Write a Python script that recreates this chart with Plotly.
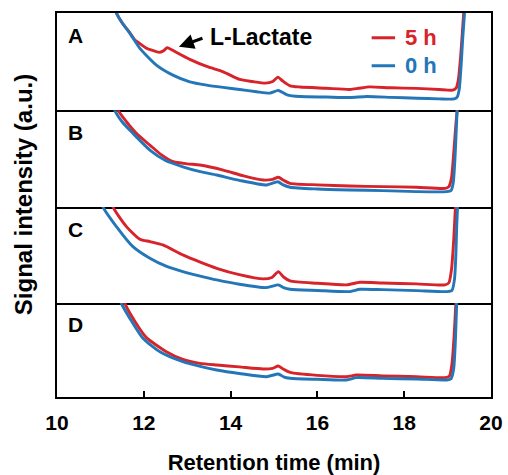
import plotly.graph_objects as go

# Retention-time axis ticks
tick_vals = [10, 12, 14, 16, 18, 20]
tick_text = ["10", "12", "14", "16", "18", "20"]

panel_labels = ["A", "B", "C", "D"]

# Chromatogram traces (relative signal, 0-100 per panel) for 5 h and 0 h
a_5h_x = [11.25, 11.37, 11.5, 11.68, 11.8, 11.91, 12.05, 12.2, 12.35, 12.45, 12.54, 12.65, 12.79, 13.06,
          13.45, 13.83, 14.21, 14.5, 14.8, 14.97, 15.09, 15.2, 15.37, 15.6, 16.2, 16.75, 16.95, 17.2,
          17.7, 18.28, 18.8, 19.12, 19.2, 19.25, 19.3, 19.34, 19.37, 19.4]
a_5h_y = [125, 100, 90, 79.5, 72, 68.5, 64, 61.5, 59.5, 61, 64.2, 62, 58.5, 52.3,
          45, 39.5, 31.6, 29.5, 27.8, 29.5, 34, 30, 25, 23.8, 22.5, 21.3, 22.5, 24,
          23, 22.4, 21.3, 20.6, 23, 32, 55, 80, 100, 125]
a_0h_x = [11.25, 11.37, 11.5, 11.68, 11.91, 12.29, 12.67, 13.06, 13.45, 13.83, 14.21, 14.6, 14.9,
          15.1, 15.3, 15.6, 16.2, 16.75, 17.14, 17.7, 18.3, 18.8, 19.15, 19.22, 19.27, 19.31,
          19.35, 19.39, 19.42]
a_0h_y = [125, 100, 90, 79.1, 63.6, 46.4, 36.1, 29.2, 25.8, 23.4, 21.3, 19, 17.5,
          20.3, 15.8, 14, 13.5, 13, 14, 13.2, 12.3, 11.6, 11.5, 13.5, 22, 45,
          75, 100, 125]

b_5h_x = [11.28, 11.41, 11.6, 11.85, 12.14, 12.4, 12.68, 13.0, 13.29, 13.83, 14.3, 14.75, 14.97,
          15.1, 15.22, 15.37, 16.0, 16.75, 17.5, 18.29, 18.95, 19.03, 19.09, 19.14, 19.19, 19.22, 19.25]
b_5h_y = [125, 100, 88, 75, 63.9, 54, 46.7, 44.5, 43.3, 38.1, 32, 27.8, 28.5,
          30.6, 27.5, 24.4, 22.8, 21.6, 21, 20.3, 19.2, 21, 30, 55, 85, 100, 125]
b_0h_x = [11.2, 11.33, 11.5, 11.75, 12.14, 12.5, 12.9, 13.3, 13.68, 14.2, 14.83, 15.09, 15.2,
          15.37, 16.0, 16.75, 17.5, 18.29, 18.98, 19.08, 19.13, 19.17, 19.2, 19.22, 19.25]
b_0h_y = [125, 100, 88, 76, 58.8, 48, 41.5, 36.5, 33, 27.5, 22.7, 26, 23,
          20.3, 18.5, 17.5, 16.8, 15.8, 15.8, 17, 25, 50, 80, 100, 125]

c_5h_x = [11.15, 11.29, 11.6, 11.91, 12.14, 12.44, 12.9, 13.3, 13.68, 14.2, 14.75, 14.95, 15.1,
          15.22, 15.37, 16.0, 16.67, 16.98, 17.5, 18.29, 18.94, 19.03, 19.09, 19.14, 19.18, 19.21]
c_5h_y = [125, 100, 79.5, 66.3, 63.9, 60.4, 50, 42.5, 36.1, 29.5, 25, 26.5, 32.6,
          27, 22.9, 20.5, 18.8, 21.5, 20.8, 19.8, 18.8, 21, 35, 65, 100, 125]
c_0h_x = [10.95, 11.06, 11.37, 11.75, 12.14, 12.5, 12.9, 13.3, 13.68, 14.2, 14.83, 15.1, 15.22,
          15.37, 16.0, 16.75, 16.98, 17.5, 18.29, 18.98, 19.1, 19.16, 19.19, 19.21, 19.23, 19.26]
c_0h_y = [125, 100, 79.5, 58.6, 46.5, 38.5, 32.6, 28, 24, 19.5, 16, 18.8, 16,
          14.2, 13, 11.8, 14.2, 13.8, 12.8, 11.8, 13, 25, 50, 80, 100, 125]

d_5h_x = [11.45, 11.56, 11.8, 12.06, 12.52, 12.9, 13.29, 13.68, 14.2, 14.75, 14.97, 15.1, 15.22,
          15.37, 16.0, 16.67, 16.9, 17.5, 18.29, 18.94, 19.04, 19.1, 19.15, 19.19, 19.22]
d_5h_y = [125, 100, 80, 63.1, 48.2, 40, 35.8, 34, 32, 29.8, 30.5, 33, 29.5,
          26.2, 23, 21.6, 23.4, 22.5, 21.6, 20.5, 22, 35, 65, 100, 125]
d_0h_x = [11.38, 11.48, 11.7, 11.98, 12.37, 12.9, 13.3, 13.68, 14.2, 14.83, 15.1, 15.22, 15.37,
          16.0, 16.67, 16.9, 17.5, 18.29, 18.98, 19.08, 19.14, 19.18, 19.21, 19.24]
d_0h_y = [125, 100, 82, 62.4, 48.2, 37.6, 32.5, 28.7, 25, 21.6, 24.5, 21.5, 19.9,
          18.8, 18.1, 20.6, 19.8, 19.1, 18.1, 19.5, 30, 60, 100, 125]

series = [
    (a_5h_x, a_5h_y, a_0h_x, a_0h_y),
    (b_5h_x, b_5h_y, b_0h_x, b_0h_y),
    (c_5h_x, c_5h_y, c_0h_x, c_0h_y),
    (d_5h_x, d_5h_y, d_0h_x, d_0h_y),
]

RED = "#d7232a"
BLUE = "#2376b7"
FONT = "Liberation Sans, Arial, sans-serif"

# Vertical domains of the four stacked panels (top to bottom)
domains = [[0.747, 1.0], [0.495, 0.747], [0.245, 0.495], [0.0, 0.245]]

fig = go.Figure()
layout = {}
for i, (rx, ry, bx, by) in enumerate(series):
    n = i + 1
    xa = "x" if n == 1 else f"x{n}"
    ya = "y" if n == 1 else f"y{n}"
    fig.add_trace(go.Scatter(x=rx, y=ry, xaxis=xa, yaxis=ya, mode="lines",
                             line=dict(color=RED, width=2.9, shape="spline", smoothing=0.6),
                             showlegend=False, hoverinfo="skip"))
    fig.add_trace(go.Scatter(x=bx, y=by, xaxis=xa, yaxis=ya, mode="lines",
                             line=dict(color=BLUE, width=2.9, shape="spline", smoothing=0.6),
                             showlegend=False, hoverinfo="skip"))
    bottom = n == 4
    layout[f"xaxis{n}"] = dict(
        domain=[0, 1], anchor=ya, range=[10, 20], showline=True,
        mirror=True if n == 1 else False, automargin=False,
        linecolor="black", linewidth=2, showgrid=False, zeroline=False,
        tickvals=tick_vals if bottom else [], ticktext=tick_text if bottom else [],
        ticks="inside" if bottom else "", ticklen=6, tickwidth=2, tickcolor="black",
        showticklabels=bottom, ticklabelstandoff=6,
        tickfont=dict(family=FONT, size=21, color="black", weight="bold"),
        matches=None if n == 1 else "x",
    )
    if bottom:
        layout[f"xaxis{n}"]["title"] = dict(
            text="Retention time (min)", standoff=22,
            font=dict(family=FONT, size=22, color="black", weight="bold"))
    layout[f"yaxis{n}"] = dict(
        domain=domains[i], anchor=xa, range=[0, 100], showline=True, mirror=True,
        automargin=False,
        linecolor="black", linewidth=2, showgrid=False, zeroline=False,
        showticklabels=False, ticks="",
    )

annotations = []
for i, lab in enumerate(panel_labels):
    n = i + 1
    xr = "x" if n == 1 else f"x{n}"
    yr = "y" if n == 1 else f"y{n}"
    annotations.append(dict(text=lab, xref=f"{xr} domain", yref=f"{yr} domain",
                            x=0.042, y=0.77, showarrow=False, xanchor="center", yanchor="middle",
                            font=dict(family=FONT, size=21, color="black", weight="bold")))

# Peak marker in panel A
annotations.append(dict(text="", x=12.81, y=65.3, xref="x", yref="y", showarrow=True,
                        ax=25, ay=-9, arrowhead=2, arrowsize=1.0, arrowwidth=3,
                        arrowcolor="black", standoff=0))
annotations.append(dict(text="L-Lactate", x=14.70, y=75.6, xref="x", yref="y", showarrow=False,
                        xanchor="center", yanchor="middle",
                        font=dict(family=FONT, size=23, color="black", weight="bold")))

# Key entries
annotations.append(dict(text="5 h", xref="x domain", yref="y domain", x=0.797, y=0.745,
                        showarrow=False, xanchor="left", yanchor="middle",
                        font=dict(family=FONT, size=22, color=RED, weight="bold")))
annotations.append(dict(text="0 h", xref="x domain", yref="y domain", x=0.797, y=0.457,
                        showarrow=False, xanchor="left", yanchor="middle",
                        font=dict(family=FONT, size=22, color=BLUE, weight="bold")))
shapes = [
    dict(type="line", xref="x domain", yref="y domain", x0=0.725, x1=0.779, y0=0.745, y1=0.745,
         line=dict(color=RED, width=3)),
    dict(type="line", xref="x domain", yref="y domain", x0=0.725, x1=0.779, y0=0.457, y1=0.457,
         line=dict(color=BLUE, width=3)),
]

# Shared vertical axis title
annotations.append(dict(text="Signal intensity (a.u.)", xref="paper", yref="paper",
                        x=-0.078, y=0.526, textangle=-90, showarrow=False,
                        xanchor="center", yanchor="middle",
                        font=dict(family=FONT, size=24, color="black", weight="bold")))

fig.update_layout(
    width=508, height=475,
    margin=dict(l=57, r=17, t=13, b=78),
    plot_bgcolor="white", paper_bgcolor="white",
    annotations=annotations, shapes=shapes,
    showlegend=False,
    **layout,
)

fig.write_html("out.html")
